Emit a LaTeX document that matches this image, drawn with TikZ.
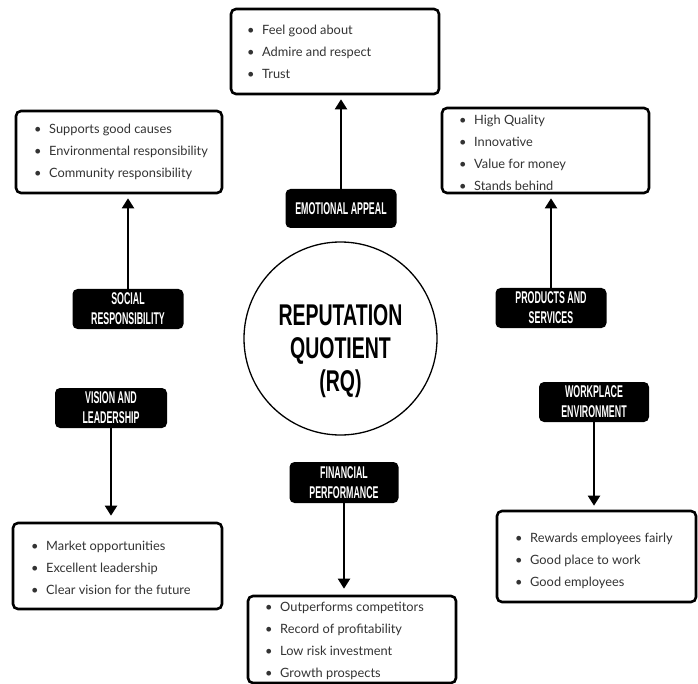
\documentclass[tikz,border=0pt]{standalone}
\usepackage{fontspec}
\usetikzlibrary{arrows.meta}
\newfontfamily\latofont{Lato}
\newfontfamily\condfont[FakeStretch=0.52]{Liberation Sans Bold}
\newfontfamily\condbold[FakeStretch=0.65]{Liberation Sans Bold}
\newcommand{\bitem}[1]{\makebox[15pt][l]{\textbullet}#1}
\begin{document}
\begin{tikzpicture}[x=1pt,y=-1pt,
  listbox/.style={draw=black,line width=2.6pt,rounded corners=5pt,fill=white,inner sep=0pt},
  listtext/.style={anchor=west,align=left,inner sep=0pt,text=black!80,
    font=\latofont\fontsize{12.8pt}{22pt}\selectfont},
  lbl/.style={fill=black,rounded corners=5pt,text=white,align=center,inner sep=0pt,
    font=\condfont\fontsize{17pt}{20pt}\selectfont},
  arr/.style={line width=2pt,-{Triangle[width=12pt,length=10pt]}}]
\useasboundingbox (0,0) rectangle (698,684);
% central circle
\node[draw,circle,line width=1.3pt,minimum size=193pt,inner sep=0pt] (rq) at (340.5,338.5) {};
\node[font=\condbold\fontsize{30pt}{33pt}\selectfont,align=center,inner sep=0pt] (rqtxt) at (340.5,351)
  {REPUTATION\\QUOTIENT\\(RQ)};
% list boxes
\node[listbox,minimum width=208pt,minimum height=85pt] (top) at (335,51.5) {};
\node[listbox,minimum width=206pt,minimum height=82pt] (tl) at (119,152) {};
\node[listbox,minimum width=207pt,minimum height=85pt] (tr) at (545.5,150.5) {};
\node[listbox,minimum width=209pt,minimum height=86pt] (bl) at (117.5,566) {};
\node[listbox,minimum width=208pt,minimum height=87pt] (bc) at (352,639.5) {};
\node[listbox,minimum width=199pt,minimum height=91pt] (br) at (596.5,556.5) {};
% list texts
\node[listtext] (toptxt) at (247,52) {\bitem{Feel good about}\\\bitem{Admire and respect}\\\bitem{Trust}};
\node[listtext] (tltxt) at (34,152) {\bitem{Supports good causes}\\\bitem{Environmental responsibility}\\\bitem{Community responsibility}};
\node[listtext] (trtxt) at (459,153) {\bitem{High Quality}\\\bitem{Innovative}\\\bitem{Value for money}\\\bitem{Stands behind}};
\node[listtext] (bltxt) at (31,568) {\bitem{Market opportunities}\\\bitem{Excellent leadership}\\\bitem{Clear vision for the future}};
\node[listtext] (bctxt) at (265,641) {\bitem{Outperforms competitors}\\\bitem{Record of profitability}\\\bitem{Low risk investment}\\\bitem{Growth prospects}};
\node[listtext] (brtxt) at (515,561) {\bitem{Rewards employees fairly}\\\bitem{Good place to work}\\\bitem{Good employees}};
% labels
\node[lbl,minimum width=111pt,minimum height=39pt] (emo) at (341,208.5) {EMOTIONAL APPEAL};
\node[lbl,minimum width=111pt,minimum height=40pt] (soc) at (128,309) {SOCIAL\\RESPONSIBILITY};
\node[lbl,minimum width=111pt,minimum height=40pt] (prod) at (551,308) {PRODUCTS AND\\SERVICES};
\node[lbl,minimum width=112pt,minimum height=40pt] (vis) at (111,408) {VISION AND\\LEADERSHIP};
\node[lbl,minimum width=109pt,minimum height=41pt] (fin) at (344,482.5) {FINANCIAL\\PERFORMANCE};
\node[lbl,minimum width=110pt,minimum height=40pt] (work) at (594,402) {WORKPLACE\\ENVIRONMENT};
% arrows
\draw[arr,shorten >=4pt] (emo.north) -- (emo.north |- top.south);
\draw[arr,shorten >=4pt] (soc.north) -- (soc.north |- tl.south);
\draw[arr,shorten >=4pt] (prod.north) -- (prod.north |- tr.south);
\draw[arr,shorten >=6pt] (vis.south) -- (vis.south |- bl.north);
\draw[arr,shorten >=6pt] (fin.south) -- (fin.south |- bc.north);
\draw[arr,shorten >=4pt] (work.south) -- (work.south |- br.north);
\end{tikzpicture}
\end{document}
